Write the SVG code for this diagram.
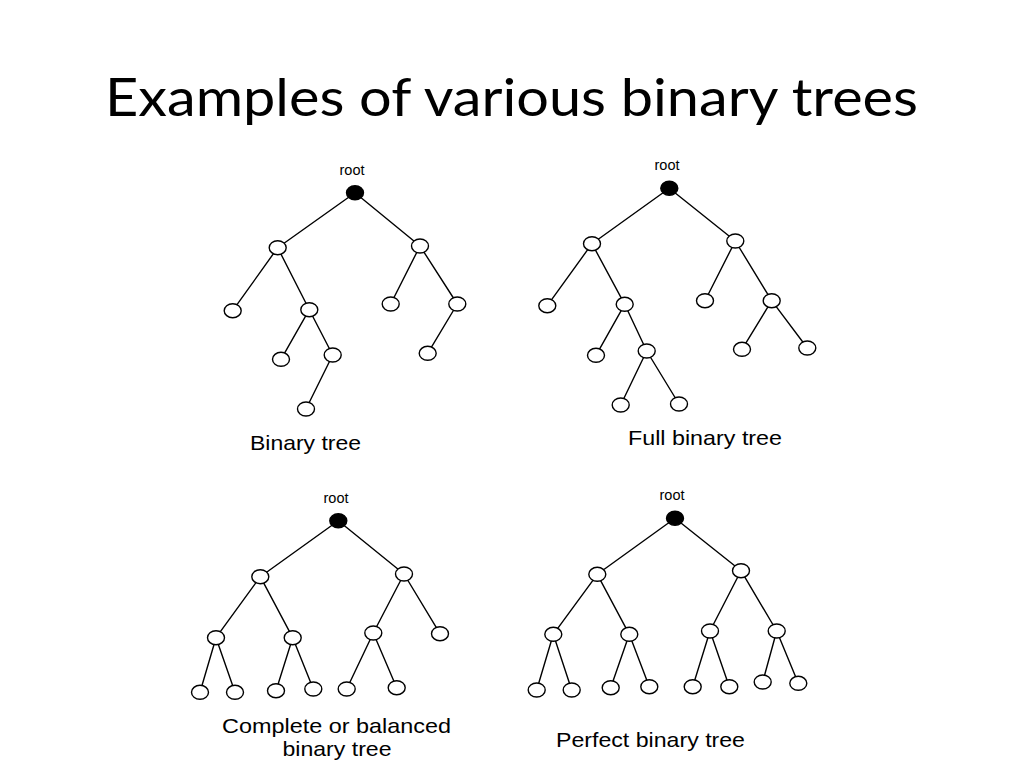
<svg xmlns="http://www.w3.org/2000/svg" width="1024" height="768" viewBox="0 0 1024 768">
<style>
.e{stroke:#000;stroke-width:1.4;fill:none}
.n{fill:#fff;stroke:#000;stroke-width:1.4}
.r{fill:#000;stroke:#000;stroke-width:1.4}
.lbl{font-family:"Liberation Sans",Arial,sans-serif;font-size:21px;fill:#000}
.rt{font-family:"Liberation Sans",Arial,sans-serif;font-size:14.5px;fill:#000;text-anchor:middle}
.title{font-family:Lato,"Open Sans",sans-serif;font-size:52px;fill:#000}
</style>
<defs>
<ellipse id="c" rx="8.5" ry="7" class="n"/>
<ellipse id="b" rx="8.5" ry="7" class="r"/>
</defs>
<rect width="1024" height="768" fill="#fff"/>
<text class="title" x="105" y="116" textLength="813" lengthAdjust="spacingAndGlyphs">Examples of various binary trees</text>

<g id="connectors">
<!-- Tree 1 -->
<path class="e" d="M355,192.7L277.7,247.7 M355,192.7L420,246 M277.7,247.7L232.7,310.7 M277.7,247.7L309.3,309.7 M309.3,309.7L281,359.3 M309.3,309.7L332.7,355 M332.7,355L306,409 M420,246L390.7,304 M420,246L457.3,304 M457.3,304L427.7,353.3"/>
<!-- Tree 2 -->
<path class="e" d="M669.3,188.3L592,243.7 M669.3,188.3L735.3,241 M592,243.7L547.3,305.7 M592,243.7L624.7,304.3 M624.7,304.3L596,355.3 M624.7,304.3L646.7,351 M646.7,351L620.7,405 M646.7,351L679,404 M735.3,241L705,300.7 M735.3,241L771.7,300.7 M771.7,300.7L742,349.3 M771.7,300.7L807.3,348"/>
<!-- Tree 3 -->
<path class="e" d="M338.3,520.7L260.3,576.7 M338.3,520.7L404,574 M260.3,576.7L216,637.7 M260.3,576.7L292.7,637.7 M404,574L373.3,633 M404,574L440,633.7 M216,637.7L200,692.3 M216,637.7L235,692.3 M292.7,637.7L276,690.7 M292.7,637.7L313.3,689 M373.3,633L346.7,689 M373.3,633L396.7,687.7"/>
<!-- Tree 4 -->
<path class="e" d="M675,518.3L597.3,574.3 M675,518.3L741,570.7 M597.3,574.3L553.3,634.3 M597.3,574.3L629.3,634.3 M741,570.7L710,631 M741,570.7L776.7,631 M553.3,634.3L536.7,690 M553.3,634.3L571.7,690 M629.3,634.3L610.7,687.7 M629.3,634.3L649.3,686.7 M710,631L692.7,686.7 M710,631L729.3,686.7 M776.7,631L762.7,682 M776.7,631L798.3,683.3"/>
</g>

<g id="tree-binary">
<text class="rt" x="352" y="175">root</text>
<use href="#b" x="355" y="192.7"/>
<use href="#c" x="277.7" y="247.7"/>
<use href="#c" x="420" y="246"/>
<use href="#c" x="232.7" y="310.7"/>
<use href="#c" x="309.3" y="309.7"/>
<use href="#c" x="281" y="359.3"/>
<use href="#c" x="332.7" y="355"/>
<use href="#c" x="306" y="409"/>
<use href="#c" x="390.7" y="304"/>
<use href="#c" x="457.3" y="304"/>
<use href="#c" x="427.7" y="353.3"/>
<text class="lbl" x="250" y="450" textLength="111" lengthAdjust="spacingAndGlyphs">Binary tree</text>
</g>

<g id="tree-full">
<text class="rt" x="667" y="170">root</text>
<use href="#b" x="669.3" y="188.3"/>
<use href="#c" x="592" y="243.7"/>
<use href="#c" x="735.3" y="241"/>
<use href="#c" x="547.3" y="305.7"/>
<use href="#c" x="624.7" y="304.3"/>
<use href="#c" x="596" y="355.3"/>
<use href="#c" x="646.7" y="351"/>
<use href="#c" x="620.7" y="405"/>
<use href="#c" x="679" y="404"/>
<use href="#c" x="705" y="300.7"/>
<use href="#c" x="771.7" y="300.7"/>
<use href="#c" x="742" y="349.3"/>
<use href="#c" x="807.3" y="348"/>
<text class="lbl" x="628" y="445" textLength="154" lengthAdjust="spacingAndGlyphs">Full binary tree</text>
</g>

<g id="tree-complete">
<text class="rt" x="336" y="503">root</text>
<use href="#b" x="338.3" y="520.7"/>
<use href="#c" x="260.3" y="576.7"/>
<use href="#c" x="404" y="574"/>
<use href="#c" x="216" y="637.7"/>
<use href="#c" x="292.7" y="637.7"/>
<use href="#c" x="373.3" y="633"/>
<use href="#c" x="440" y="633.7"/>
<use href="#c" x="200" y="692.3"/>
<use href="#c" x="235" y="692.3"/>
<use href="#c" x="276" y="690.7"/>
<use href="#c" x="313.3" y="689"/>
<use href="#c" x="346.7" y="689"/>
<use href="#c" x="396.7" y="687.7"/>
<text class="lbl" x="222" y="732.5" textLength="229" lengthAdjust="spacingAndGlyphs">Complete or balanced</text>
<text class="lbl" x="282.5" y="755.5" textLength="109" lengthAdjust="spacingAndGlyphs">binary tree</text>
</g>

<g id="tree-perfect">
<text class="rt" x="672" y="500">root</text>
<use href="#b" x="675" y="518.3"/>
<use href="#c" x="597.3" y="574.3"/>
<use href="#c" x="741" y="570.7"/>
<use href="#c" x="553.3" y="634.3"/>
<use href="#c" x="629.3" y="634.3"/>
<use href="#c" x="710" y="631"/>
<use href="#c" x="776.7" y="631"/>
<use href="#c" x="536.7" y="690"/>
<use href="#c" x="571.7" y="690"/>
<use href="#c" x="610.7" y="687.7"/>
<use href="#c" x="649.3" y="686.7"/>
<use href="#c" x="692.7" y="686.7"/>
<use href="#c" x="729.3" y="686.7"/>
<use href="#c" x="762.7" y="682"/>
<use href="#c" x="798.3" y="683.3"/>
<text class="lbl" x="556" y="747" textLength="189" lengthAdjust="spacingAndGlyphs">Perfect binary tree</text>
</g>
</svg>
